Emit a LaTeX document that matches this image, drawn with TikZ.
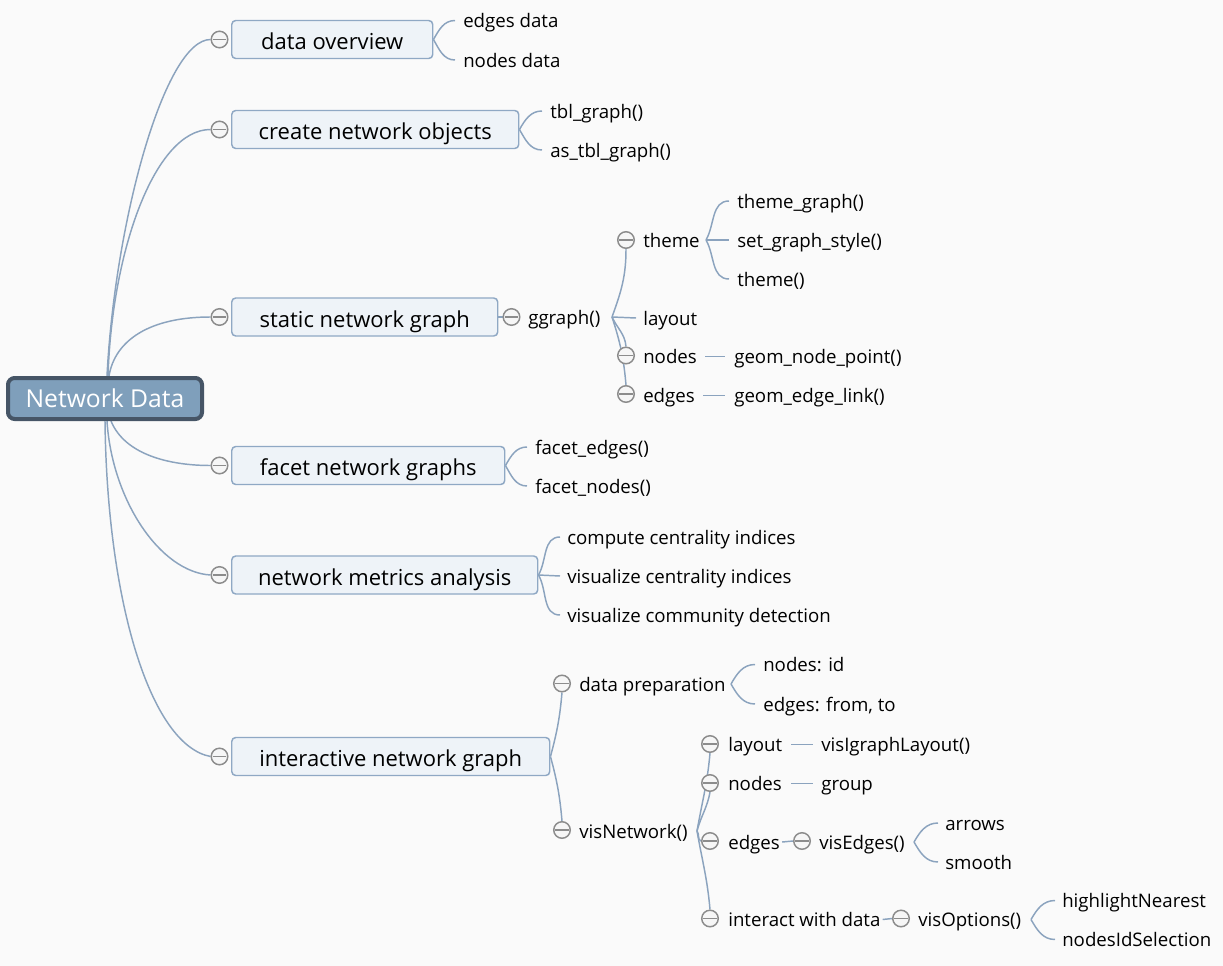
\documentclass[tikz,border=0pt]{standalone}
\usepackage{fontspec}
\setmainfont{Open Sans}
\usetikzlibrary{calc}
\definecolor{bgc}{RGB}{250,250,250}
\definecolor{lnc}{RGB}{139,163,190}
\definecolor{boxf}{RGB}{238,243,248}
\definecolor{boxd}{RGB}{143,168,196}
\definecolor{rootf}{RGB}{127,159,187}
\definecolor{rootd}{RGB}{70,85,102}
\definecolor{cgray}{RGB}{140,140,140}
\definecolor{cfill}{RGB}{246,246,246}
\pgfdeclarelayer{back}
\pgfdeclarelayer{wires}
\pgfsetlayers{back,wires,main}
\newcommand{\leaffont}{\fontsize{14}{16}\selectfont}
\newcommand{\boxfont}{\fontsize{16.5}{19}\selectfont}
\newcommand{\rootfont}{\fontsize{18.5}{21}\selectfont}
\begin{document}
\begin{tikzpicture}[x=0.75pt,y=-0.75pt,
  conn/.style={draw=lnc,line width=1.1pt},
  rootbox/.style={draw=rootd,fill=rootf,line width=3pt,rounded corners=5pt,text=white,
    font=\rootfont,minimum width=145.5pt,minimum height=30.75pt,inner sep=0pt,
    text height=15pt,text depth=1.8pt},
  mbox/.style={draw=boxd,fill=boxf,line width=1.1pt,rounded corners=3pt,anchor=west,
    font=\boxfont,minimum height=28.5pt,inner sep=0pt,text height=17pt,text depth=2pt},
  leaf/.style={anchor=west,inner xsep=0pt,inner ysep=0pt,font=\leaffont,
    text height=13.5pt,text depth=2.3pt},
  cbtn/.style={circle,draw=cgray,fill=cfill,line width=1.1pt,minimum size=12.4pt,inner sep=0pt,
    path picture={\draw[cgray,line width=1.1pt] ([xshift=1.3pt]path picture bounding box.west) -- ([xshift=-1.3pt]path picture bounding box.east);}},
  bup/.style={out=60,in=180},
  bdn/.style={out=-60,in=180},
]
\useasboundingbox (0,0) rectangle (1223,966);
\begin{pgfonlayer}{back}
\fill[bgc] (0,0) rectangle (1223,966);
\end{pgfonlayer}

% root
\node[rootbox] (root) at (105,398.5) {Network Data};

% main boxes and their buttons
\node[cbtn] (c1) at (219.5,39.5) {};
\node[mbox,minimum width=150.75pt] (b1) at (231,39.5) {data overview};
\node[cbtn] (c2) at (219.5,129.5) {};
\node[mbox,minimum width=215.25pt] (b2) at (231,129.5) {create network objects};
\node[cbtn] (c3) at (219.5,317) {};
\node[mbox,minimum width=199.5pt] (b3) at (231,317) {static network graph};
\node[cbtn] (c4) at (219.5,465.5) {};
\node[mbox,minimum width=204.75pt] (b4) at (231,465.5) {facet network graphs};
\node[cbtn] (c5) at (219.5,575) {};
\node[mbox,minimum width=229.5pt] (b5) at (231,575) {network metrics analysis};
\node[cbtn] (c6) at (219.5,756.5) {};
\node[mbox,minimum width=238.5pt] (b6) at (231,756.5) {interactive network graph};

% data overview
\node[leaf] (l11) at (463,20.5) {edges data};
\node[leaf] (l12) at (463,60) {nodes data};
% create network objects
\node[leaf] (l21) at (550,111) {tbl\_graph()};
\node[leaf] (l22) at (550,150) {as\_tbl\_graph()};
% static network graph
\node[cbtn] (c31) at (511.5,317) {};
\node[leaf] (gg) at (528,317) {ggraph()};
\coordinate (jg) at (612,317);
\node[cbtn] (ct) at (626,240) {};
\node[leaf] (th) at (643,240) {theme};
\coordinate (jt) at (706,240);
\node[leaf] (t1) at (737,201) {theme\_graph()};
\node[leaf] (t2) at (737,240) {set\_graph\_style()};
\node[leaf] (t3) at (737,279) {theme()};
\node[leaf] (lay) at (643,318) {layout};
\node[cbtn] (cn) at (626,355.5) {};
\node[leaf] (nd) at (643,356.5) {nodes};
\node[leaf] (gnp) at (734,356.5) {geom\_node\_point()};
\node[cbtn] (ce) at (626,394) {};
\node[leaf] (ed) at (643,395.5) {edges};
\node[leaf] (gel) at (734,395.5) {geom\_edge\_link()};
% facet
\node[leaf] (l41) at (535,447) {facet\_edges()};
\node[leaf] (l42) at (535,486) {facet\_nodes()};
% metrics
\node[leaf] (l51) at (567,537) {compute centrality indices};
\node[leaf] (l52) at (567,576) {visualize centrality indices};
\node[leaf] (l53) at (567,615) {visualize community detection};
% interactive
\node[cbtn] (c61) at (562,683.5) {};
\node[leaf] (dp) at (579,684) {data preparation};
\coordinate (jd) at (731,684);
\node[leaf] (dp1) at (763,664.5) {nodes: id};
\node[leaf] (dp2) at (763,704) {edges: from, to};
\node[cbtn] (c62) at (562,830) {};
\node[leaf] (vn) at (579,831) {visNetwork()};
\coordinate (jv) at (697,831);
\node[cbtn] (c71) at (710,744) {};
\node[leaf] (v1) at (728,744.5) {layout};
\node[leaf] (v1a) at (821,744.5) {visIgraphLayout()};
\node[cbtn] (c72) at (710,783) {};
\node[leaf] (v2) at (728,783.5) {nodes};
\node[leaf] (v2a) at (821,783.5) {group};
\node[cbtn] (c73) at (710,841) {};
\node[leaf] (v3) at (728,842) {edges};
\node[cbtn] (c73b) at (802,841) {};
\node[leaf] (v3a) at (819,842) {visEdges()};
\coordinate (je) at (914,842);
\node[leaf] (ar) at (945,823) {arrows};
\node[leaf] (sm) at (945,862) {smooth};
\node[cbtn] (c74) at (710,918.5) {};
\node[leaf] (v4) at (728,919.5) {interact with data};
\node[cbtn] (c74b) at (901,918.5) {};
\node[leaf] (v4a) at (918,919.5) {visOptions()};
\coordinate (ji) at (1031,919.5);
\node[leaf] (hn) at (1062,900.5) {highlightNearest};
\node[leaf] (ns) at (1062,939.5) {nodesIdSelection};

\begin{pgfonlayer}{wires}
% root to main branches
\draw[conn] ($(root.north)+(2,0)$) .. controls (115,220) and (165,39.5) .. (c1.west);
\draw[conn] ($(root.north)+(3,0)$) .. controls (112,250) and (155,129.5) .. (c2.west);
\draw[conn] ($(root.north)+(4,0)$) .. controls (115,340) and (150,317) .. (c3.west);
\draw[conn] ($(root.south)+(6,0)$) .. controls (125,455) and (170,465.5) .. (c4.west);
\draw[conn] ($(root.south)+(2,0)$) .. controls (112,500) and (160,572) .. (c5.west);
\draw[conn] ($(root.south)+(0,0)$) .. controls (107,600) and (150,745) .. (c6.west);
% data overview
\draw[conn] (b1.east) to[bup] ($(l11.west)+(-8,0)$);
\draw[conn] (b1.east) to[bdn] ($(l12.west)+(-8,0)$);
% create
\draw[conn] (b2.east) to[bup] ($(l21.west)+(-8,0)$);
\draw[conn] (b2.east) to[bdn] ($(l22.west)+(-8,0)$);
% static
\draw[conn] (b3.east) -- (c31.west);
\draw[conn] (jg) to[out=70,in=-90] (ct.south);
\draw[conn] (jg) -- ($(lay.west)+(-7,0)$);
\draw[conn] (jg) to[out=-65,in=95] (cn.north);
\draw[conn] (jg) to[out=-72,in=95] (ce.north);
\draw[conn] (jt) to[bup] ($(t1.west)+(-8,0)$);
\draw[conn] (jt) -- ($(t2.west)+(-8,0)$);
\draw[conn] (jt) to[bdn] ($(t3.west)+(-8,0)$);
\draw[conn] ($(nd.east)+(8,0)$) -- ($(gnp.west)+(-9,0)$);
\draw[conn] ($(ed.east)+(8,0)$) -- ($(gel.west)+(-9,0)$);
% facet
\draw[conn] (b4.east) to[bup] ($(l41.west)+(-8,0)$);
\draw[conn] (b4.east) to[bdn] ($(l42.west)+(-8,0)$);
% metrics
\draw[conn] (b5.east) to[bup] ($(l51.west)+(-7,0)$);
\draw[conn] (b5.east) -- ($(l52.west)+(-7,0)$);
\draw[conn] (b5.east) to[bdn] ($(l53.west)+(-7,0)$);
% interactive
\draw[conn] (b6.east) to[out=75,in=-95] (c61.south);
\draw[conn] (b6.east) to[out=-75,in=95] (c62.north);
\draw[conn] (jd) to[bup] ($(dp1.west)+(-8,0)$);
\draw[conn] (jd) to[bdn] ($(dp2.west)+(-8,0)$);
\draw[conn] (jv) to[out=80,in=-95] (c71.south);
\draw[conn] (jv) to[out=75,in=-100] (c72.south);
\draw[conn] (jv) to[out=-50,in=160] (c73.west);
\draw[conn] (jv) to[out=-80,in=95] (c74.north);
\draw[conn] ($(v1.east)+(9,0)$) -- ($(v1a.west)+(-8,0)$);
\draw[conn] ($(v2.east)+(9,0)$) -- ($(v2a.west)+(-8,0)$);
\draw[conn] ($(v3.east)+(2,0)$) -- (c73b.west);
\draw[conn] (je) to[bup] ($(ar.west)+(-7,0)$);
\draw[conn] (je) to[bdn] ($(sm.west)+(-7,0)$);
\draw[conn] ($(v4.east)+(2,0)$) -- (c74b.west);
\draw[conn] (ji) to[bup] ($(hn.west)+(-7,0)$);
\draw[conn] (ji) to[bdn] ($(ns.west)+(-7,0)$);
\end{pgfonlayer}
\end{tikzpicture}
\end{document}
